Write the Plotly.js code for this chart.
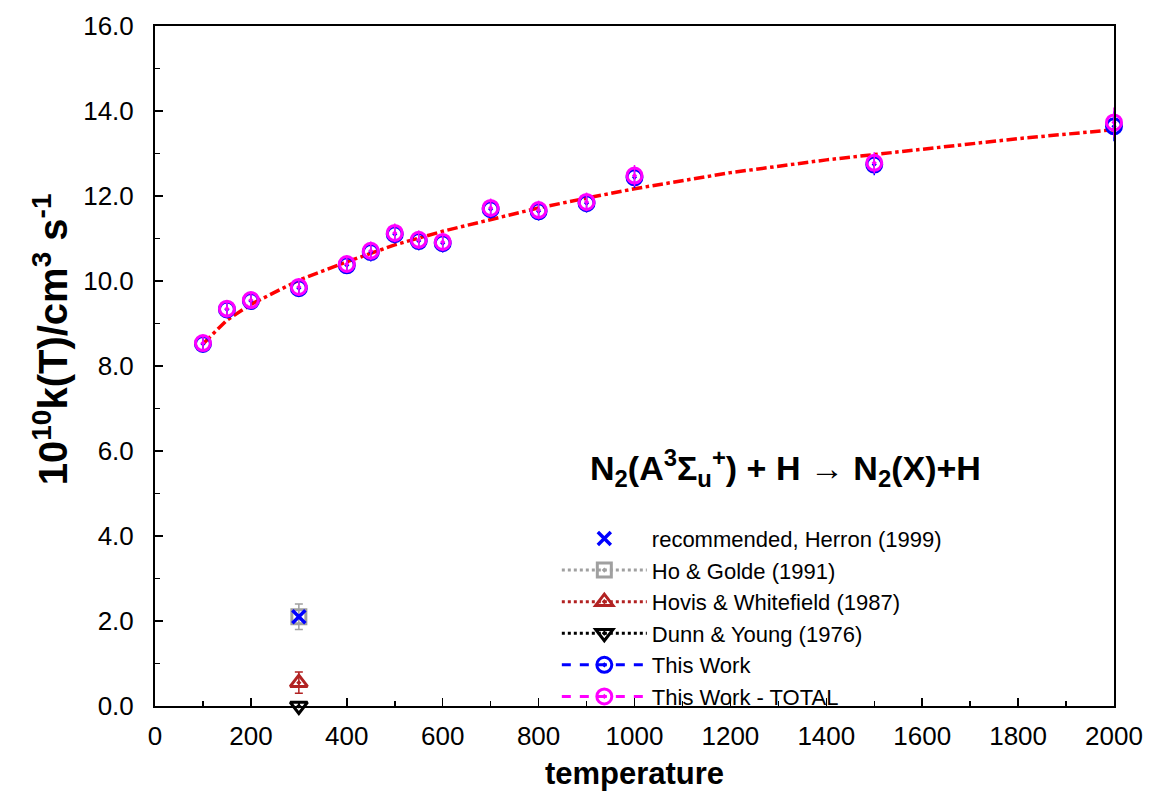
<!DOCTYPE html>
<html>
<head>
<meta charset="utf-8">
<script src="https://cdn.plot.ly/plotly-3.0.1.min.js"></script>
<style>html,body{margin:0;padding:0;background:#fff;}#chart{width:1150px;height:796px;}</style>
</head>
<body>
<div id="chart"></div>
<script>
// ---- data ----
var tWork = [100,150,200,300,400,450,500,550,600,700,800,900,1000,1500,2000];
var kTotal = [8.54,9.35,9.55,9.86,10.40,10.71,11.13,10.97,10.92,11.72,11.67,11.86,12.48,12.78,13.73];
var kTotalErr = [0.15,0.18,0.18,0.2,0.2,0.22,0.22,0.22,0.22,0.22,0.22,0.22,0.25,0.25,0.35];
var kWork = [8.52,9.33,9.53,9.83,10.37,10.68,11.10,10.94,10.89,11.69,11.64,11.83,12.44,12.74,13.64];
var kWorkErr = [0.15,0.18,0.18,0.2,0.2,0.22,0.22,0.22,0.22,0.22,0.22,0.22,0.25,0.25,0.35];

var tFit = [100,150,200,300,400,500,600,700,800,900,1000,1200,1400,1600,1800,2000];
var kFit = [8.52,9.08,9.45,10.02,10.45,10.85,11.17,11.45,11.72,11.95,12.17,12.55,12.85,13.10,13.35,13.56];

var tHerron = [300];   var kHerron = [2.1];
var tHo = [300];       var kHo = [2.1];    var kHoErr = [0.3];
var tHovis = [300];    var kHovis = [0.55]; var kHovisErr = [0.25];
var tDunn = [300];     var kDunn = [0.0];

var seriesNames = ['recommended, Herron (1999)','Ho & Golde (1991)','Hovis & Whitefield (1987)','Dunn & Young (1976)','This Work','This Work - TOTAL'];

var traces = [
  {x:tFit, y:kFit, mode:'lines', line:{color:'#ff0000', width:3.5, dash:'dashdot'}, showlegend:false, hoverinfo:'skip'},
  {x:tWork, y:kWork, mode:'markers', showlegend:false, cliponaxis:false,
   marker:{symbol:'circle-open-dot', size:15, color:'#0000ff', line:{width:3, color:'#0000ff'}},
   error_y:{type:'data', array:kWorkErr, color:'#0000ff', thickness:1.5, width:0}},
  {x:tWork, y:kTotal, mode:'markers', showlegend:false, cliponaxis:false,
   marker:{symbol:'circle-open-dot', size:15, color:'#ff00ff', line:{width:3, color:'#ff00ff'}},
   error_y:{type:'data', array:kTotalErr, color:'#ff00ff', thickness:1.5, width:0}},
  {x:tHo, y:kHo, mode:'lines+markers', name:seriesNames[1], legendrank:2, cliponaxis:false,
   line:{color:'#a0a0a0', width:3, dash:'dot'},
   marker:{symbol:'square-open-dot', size:14, color:'#a0a0a0', line:{width:3, color:'#a0a0a0'}},
   error_y:{type:'data', array:kHoErr, color:'#a0a0a0', thickness:1.5, width:4}},
  {x:tHerron, y:kHerron, mode:'markers', name:seriesNames[0], legendrank:1, cliponaxis:false,
   marker:{symbol:'x-thin', size:13, color:'#0000ff', line:{width:3.5, color:'#0000ff'}}},
  {x:tHovis, y:kHovis, mode:'lines+markers', name:seriesNames[2], legendrank:3, cliponaxis:false,
   line:{color:'#b22222', width:3, dash:'dot'},
   marker:{symbol:'triangle-up-open-dot', size:15, color:'#b22222', line:{width:3, color:'#b22222'}},
   error_y:{type:'data', array:kHovisErr, color:'#b22222', thickness:1.5, width:4}},
  {x:tDunn, y:kDunn, mode:'lines+markers', name:seriesNames[3], legendrank:4, cliponaxis:false,
   line:{color:'#000000', width:3, dash:'dot'},
   marker:{symbol:'triangle-down-open-dot', size:15, color:'#000000', line:{width:3, color:'#000000'}}},
  {x:[null], y:[null], mode:'lines+markers', name:seriesNames[4], legendrank:5,
   line:{color:'#0000ff', width:3, dash:'dash'},
   marker:{symbol:'circle-open-dot', size:15, color:'#0000ff', line:{width:3, color:'#0000ff'}}},
  {x:[null], y:[null], mode:'lines+markers', name:seriesNames[5], legendrank:6,
   line:{color:'#ff00ff', width:3, dash:'dash'},
   marker:{symbol:'circle-open-dot', size:15, color:'#ff00ff', line:{width:3, color:'#ff00ff'}}}
];

var font = 'Arial, "Liberation Sans", Helvetica, sans-serif';
var layout = {
  width:1150, height:796,
  paper_bgcolor:'#ffffff', plot_bgcolor:'#ffffff',
  margin:{l:155, r:36, t:26, b:90},
  font:{family:font, color:'#000'},
  showlegend:true,
  legend:{x:0.419, y:0.277, xanchor:'left', yanchor:'top', bgcolor:'rgba(0,0,0,0)',
          font:{size:22, family:font, color:'#000'}, itemwidth:85, traceorder:'normal',
          tracegroupgap:0},
  xaxis:{range:[0,2000], dtick:200, tick0:0, showgrid:false, zeroline:false,
         showline:true, linecolor:'#000', linewidth:2, mirror:true,
         ticks:'inside', ticklen:8, tickwidth:1.5, tickcolor:'#000',
         tickfont:{size:26, family:font}, ticklabelstandoff:6,
         minor:{dtick:100, ticks:'inside', ticklen:5, tickwidth:1.5, tickcolor:'#000', showgrid:false},
         title:{text:'<b>temperature</b>', font:{size:31, family:font}, standoff:12}},
  yaxis:{range:[0,16], dtick:2, tick0:0, tickformat:'.1f', showgrid:false, zeroline:false,
         showline:true, linecolor:'#000', linewidth:2, mirror:true,
         ticks:'inside', ticklen:8, tickwidth:1.5, tickcolor:'#000',
         tickfont:{size:26, family:font}, ticklabelstandoff:14,
         minor:{dtick:1, ticks:'inside', ticklen:5, tickwidth:1.5, tickcolor:'#000', showgrid:false}},
  annotations:[{
    x:1315, y:5.6, xref:'x', yref:'y', showarrow:false,
    text:'<b>N<sub>2</sub>(A<sup>3</sup>Σ<sub>u</sub><sup>+</sup>) + H → N<sub>2</sub>(X)+H</b>',
    font:{size:34, family:font, color:'#000'}
  },{
    x:-0.109, y:0.54, xref:'paper', yref:'paper', xanchor:'center', yanchor:'middle',
    showarrow:false, textangle:-90,
    text:'<b>10<sup>10</sup>k(T)/cm<sup>3</sup> s<sup>-1</sup></b>',
    font:{size:40, family:font, color:'#000'}
  }]
};

Plotly.newPlot('chart', traces, layout, {displayModeBar:false, staticPlot:true});
</script>
</body>
</html>
